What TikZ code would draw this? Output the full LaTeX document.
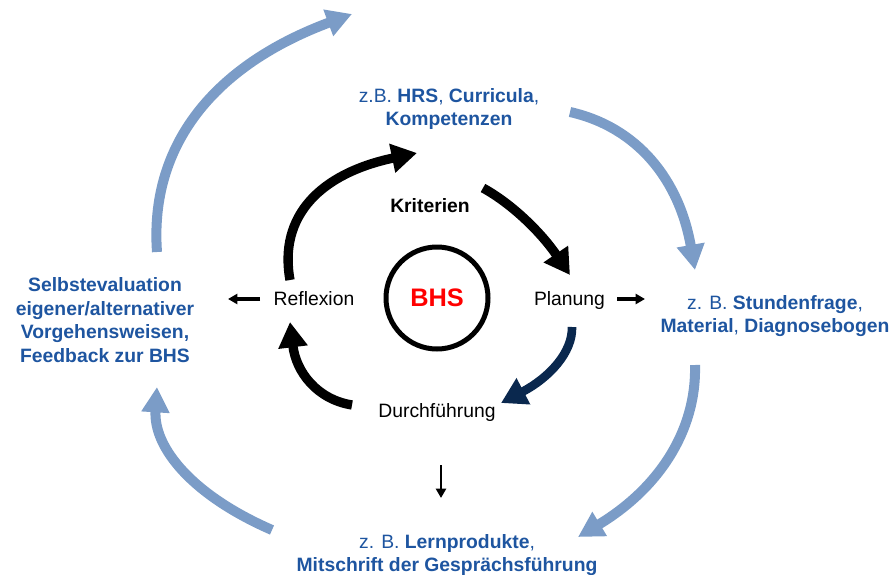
\documentclass[tikz,border=0pt]{standalone}
\usepackage{fontspec}
\setmainfont{Liberation Sans}
\usetikzlibrary{arrows.meta}
\definecolor{txtblue}{RGB}{30,85,160}
\definecolor{arrblue}{RGB}{123,156,199}
\definecolor{navyarr}{RGB}{10,40,78}
\begin{document}
\begin{tikzpicture}[x=0.75pt,y=-0.75pt,
  lbl/.style={font=\fontsize{14.5}{17.8}\selectfont, inner sep=0pt},
  bluelbl/.style={lbl, text=txtblue, align=center},
  boldbluelbl/.style={bluelbl, font=\fontsize{14.5}{17.8}\selectfont\bfseries},
  outerarrow/.style={draw=arrblue, line width=7.5pt, -{Triangle[length=19pt,width=20pt]}},
  innerarrow/.style={draw=black, line width=7pt, -{Triangle[length=19pt,width=21pt]}},
  smallarrow/.style={draw=black, line width=2.4pt, -{Triangle[length=7pt,width=7.5pt]}}]
\useasboundingbox (0,0) rectangle (893,575);

% centre
\node[circle, draw, line width=3.75pt, minimum size=76.5pt, inner sep=0pt,
      text=red, font=\fontsize{19}{22}\selectfont\bfseries] (bhs) at (437,298) {BHS};

% inner labels
\node[lbl, anchor=base] (krit) at (430,212) {\bfseries Kriterien};
\node[lbl, anchor=base] (refl) at (314,305) {Reflexion};
\node[lbl, anchor=base] (plan) at (569.5,305) {Planung};
\node[lbl, anchor=base] (durch) at (437,417) {Durchführung};

% outer labels
\node[bluelbl] (crit) at (449,109) {z.B. \textbf{HRS}, \textbf{Curricula},\\ \textbf{Kompetenzen}};
\node[bluelbl] (mat) at (775,316) {z. B. \textbf{Stundenfrage},\\ \textbf{Material}, \textbf{Diagnosebogen}};
\node[boldbluelbl] (self) at (105,320) {Selbstevaluation\\ eigener/alternativer\\ Vorgehensweisen,\\ Feedback zur BHS};
\node[bluelbl] (prod) at (447,555) {z. B. \textbf{Lernprodukte},\\ \textbf{Mitschrift der Gesprächsführung}};

% inner cycle
\coordinate (i1s) at (290,280); \coordinate (i1e) at (417,153);
\coordinate (i2s) at (483,188); \coordinate (i2e) at (570,275);
\coordinate (i3s) at (572,327); \coordinate (i3e) at (501,403);
\coordinate (i4s) at (352,405); \coordinate (i4e) at (290,322);
\draw[innerarrow] (i1s) .. controls (278.3,215.7) and (320.7,173.3) .. (i1e);
\draw[innerarrow] (i2s) .. controls (512.7,204.3) and (541.7,233.3) .. (i2e);
\draw[innerarrow, draw=navyarr, line width=6.5pt] (i3s) .. controls (572.7,352.3) and (549.3,377.7) .. (i3e);
\draw[innerarrow] (i4s) .. controls (316.7,399.3) and (296,371.7) .. (i4e);

% outer cycle
\coordinate (o1s) at (157,252); \coordinate (o1e) at (352,14);
\coordinate (o2s) at (570,112); \coordinate (o2e) at (695,270);
\coordinate (o3s) at (695,365); \coordinate (o3e) at (578,537);
\coordinate (o4s) at (272,530); \coordinate (o4e) at (157,387);
\draw[outerarrow] (o1s) .. controls (149.3,144.7) and (214.3,65.3) .. (o1e);
\draw[outerarrow] (o2s) .. controls (637.7,127.3) and (679.3,180) .. (o2e);
\draw[outerarrow] (o3s) .. controls (696.7,431.7) and (657.7,489) .. (o3e);
\draw[outerarrow] (o4s) .. controls (191.7,495) and (153.3,447.3) .. (o4e);

% small arrows
\coordinate (s1s) at (260,299); \coordinate (s1e) at (228,299);
\coordinate (s2s) at (617,299); \coordinate (s2e) at (645,299);
\coordinate (s3s) at (441,465); \coordinate (s3e) at (441,498);
\draw[smallarrow] (s1s) -- (s1e);
\draw[smallarrow] (s2s) -- (s2e);
\draw[smallarrow, line width=1.9pt] (s3s) -- (s3e);
\end{tikzpicture}
\end{document}
